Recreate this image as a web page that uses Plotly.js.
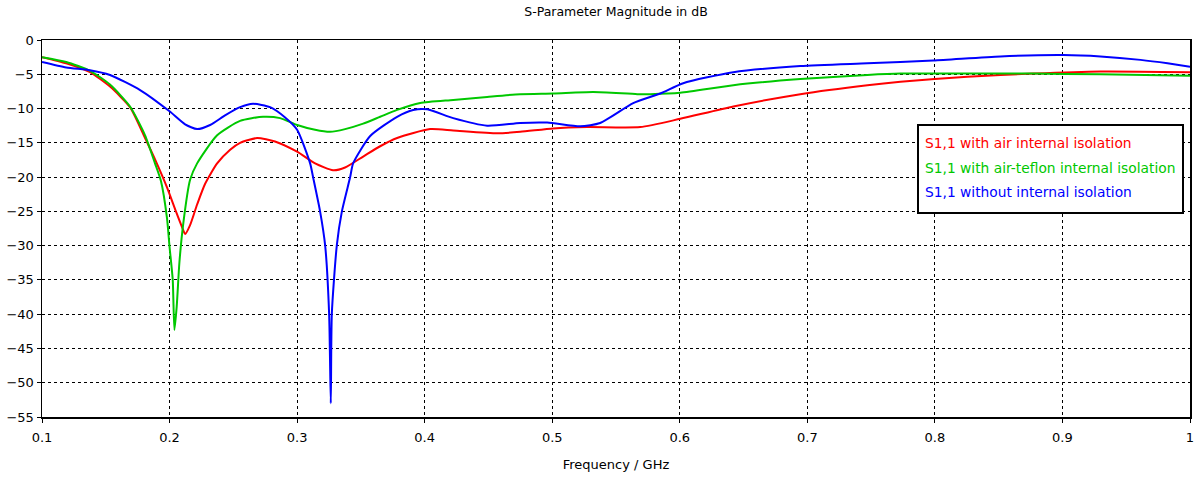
<!DOCTYPE html>
<html>
<head>
<meta charset="utf-8">
<script src="https://cdn.plot.ly/plotly-3.0.1.min.js"></script>
<style>html,body{margin:0;padding:0;background:#fff;}#chart{width:1198px;height:477px;}</style>
</head>
<body>
<div id="chart"></div>
<script>
// Series names
const names = [
  "S1,1 with air internal isolation",
  "S1,1 with air-teflon internal isolation",
  "S1,1 without internal isolation"
];
const colors = ["#ff0000", "#00c800", "#0000ff"];

// S1,1 with air internal isolation
const redFreq = [0.1, 0.119, 0.1376, 0.1533, 0.169, 0.1808, 0.190, 0.198, 0.205, 0.2098, 0.2122, 0.2161, 0.2216, 0.2278, 0.2373, 0.2475, 0.2553, 0.2686, 0.2827, 0.3, 0.3141, 0.3282, 0.3376, 0.3518, 0.3651, 0.3784, 0.4043, 0.4224, 0.4569, 0.4749, 0.5008, 0.5275, 0.569, 0.6004, 0.642, 0.6945, 0.7471, 0.773, 0.8255, 0.8773, 0.9298, 1.0];
const redDb   = [-2.5, -3.4, -4.7, -6.8, -9.8, -14.3, -18.0, -21.5, -25.0, -27.3, -28.3, -27.0, -24.0, -21.0, -18.0, -16.0, -15.0, -14.3, -14.8, -16.3, -18.0, -19.0, -18.6, -17.0, -15.5, -14.3, -13.0, -13.2, -13.6, -13.4, -12.9, -12.7, -12.7, -11.5, -9.7, -7.9, -6.6, -6.1, -5.35, -4.9, -4.6, -4.7];

// S1,1 with air-teflon internal isolation
const greenFreq = [0.1, 0.119, 0.1376, 0.1533, 0.169, 0.1808, 0.1886, 0.1933, 0.198, 0.2, 0.2025, 0.2038, 0.2056, 0.2077, 0.2108, 0.2161, 0.2216, 0.2373, 0.2553, 0.2733, 0.2867, 0.3, 0.3141, 0.3259, 0.3376, 0.3518, 0.3651, 0.3784, 0.3965, 0.4224, 0.449, 0.4749, 0.5008, 0.5322, 0.5667, 0.5769, 0.6004, 0.642, 0.6945, 0.7471, 0.773, 0.875, 0.9298, 1.0];
const greenDb   = [-2.5, -3.2, -4.5, -6.5, -9.7, -13.9, -18.0, -20.6, -26.0, -30.2, -35.0, -42.3, -38.9, -32.5, -26.7, -20.4, -18.0, -13.9, -11.8, -11.2, -11.4, -12.4, -13.1, -13.4, -13.0, -12.2, -11.2, -10.2, -9.2, -8.75, -8.3, -7.9, -7.8, -7.6, -7.9, -7.9, -7.7, -6.6, -5.7, -5.1, -4.9, -4.9, -5.0, -5.2];

// S1,1 without internal isolation
const blueFreq = [0.1, 0.119, 0.1376, 0.1533, 0.1769, 0.2, 0.2122, 0.2216, 0.2318, 0.2435, 0.2553, 0.2655, 0.2788, 0.2906, 0.3, 0.3102, 0.3125, 0.318, 0.322, 0.3251, 0.3264, 0.3272, 0.3311, 0.3351, 0.3416, 0.3439, 0.3573, 0.3784, 0.391, 0.402, 0.4224, 0.449, 0.4749, 0.4961, 0.522, 0.5376, 0.5635, 0.5847, 0.6027, 0.642, 0.6945, 0.7471, 0.7988, 0.8514, 0.9008, 0.9298, 0.9612, 0.9824, 1.0];
const blueDb   = [-3.2, -4.0, -4.4, -5.1, -7.3, -10.4, -12.3, -13.0, -12.4, -11.0, -9.8, -9.3, -9.8, -11.3, -13.1, -18.0, -20.0, -25.0, -30.0, -40.0, -53.0, -40.0, -30.0, -25.0, -20.0, -18.0, -14.0, -11.2, -10.2, -10.1, -11.4, -12.5, -12.1, -12.05, -12.6, -12.1, -9.2, -7.8, -6.3, -4.7, -3.8, -3.4, -3.0, -2.4, -2.2, -2.4, -2.9, -3.4, -3.9];

const xTicks = [0.1, 0.2, 0.3, 0.4, 0.5, 0.6, 0.7, 0.8, 0.9, 1];
const xTickText = ["0.1", "0.2", "0.3", "0.4", "0.5", "0.6", "0.7", "0.8", "0.9", "1"];
const yTicks = [0, -5, -10, -15, -20, -25, -30, -35, -40, -45, -50, -55];

const xs = [redFreq, greenFreq, blueFreq];
const ys = [redDb, greenDb, blueDb];
const traces = xs.map((x, i) => ({
  x: x, y: ys[i], name: names[i], type: "scatter", mode: "lines",
  line: {color: colors[i], width: 2, shape: "spline", smoothing: 0.6},
  showlegend: false, hoverinfo: "skip"
}));

const FONT = "DejaVu Sans, Verdana, sans-serif";
const plotL = 42, plotR = 1190, plotT = 40, plotB = 417;
const pw = plotR - plotL, ph = plotB - plotT;
const px2x = p => (p - plotL) / pw;
const py2y = p => (plotB - p) / ph;

const legendLinesY = [143, 168, 192];
const annotations = names.map((n, i) => ({
  xref: "paper", yref: "paper", x: px2x(923), y: py2y(legendLinesY[i]),
  xanchor: "left", yanchor: "middle", showarrow: false, text: n,
  font: {family: FONT, size: 13.8, color: colors[i]}
}));

const layout = {
  width: 1198, height: 477,
  margin: {l: plotL, r: 1198 - plotR, t: plotT, b: 477 - plotB},
  paper_bgcolor: "#ffffff", plot_bgcolor: "#ffffff",
  font: {family: FONT, size: 13, color: "#000"},
  title: {text: "S-Parameter Magnitude in dB", font: {family: FONT, size: 12.5, color: "#000"},
          x: 0.5, xref: "paper", y: 1 - 12 / 477, yanchor: "middle"},
  xaxis: {
    range: [0.1, 1], tickvals: xTicks, ticktext: xTickText,
    showgrid: true, gridcolor: "#000", gridwidth: 1, griddash: "3px,3px",
    showline: true, linecolor: "#000", linewidth: 1.5, mirror: true,
    ticks: "outside", ticklen: 4, tickcolor: "#000", zeroline: false,
    ticklabelstandoff: 4,
    tickfont: {family: FONT, size: 13, color: "#000"},
    title: {text: "Frequency / GHz", font: {family: FONT, size: 13, color: "#000"}, standoff: 16}
  },
  yaxis: {
    range: [-55, 0], tickvals: yTicks,
    showgrid: true, gridcolor: "#000", gridwidth: 1, griddash: "3px,3px",
    showline: true, linecolor: "#000", linewidth: 1.5, mirror: true,
    ticks: "outside", ticklen: 4, tickcolor: "#000", zeroline: false,
    tickfont: {family: FONT, size: 13, color: "#000"}
  },
  shapes: [{
    type: "rect", xref: "paper", yref: "paper", layer: "above",
    x0: px2x(918), x1: px2x(1183), y0: py2y(213), y1: py2y(125),
    line: {color: "#000", width: 2}, fillcolor: "#ffffff"
  }],
  annotations: annotations
};

Plotly.newPlot("chart", traces, layout, {displayModeBar: false, staticPlot: true});
</script>
</body>
</html>
